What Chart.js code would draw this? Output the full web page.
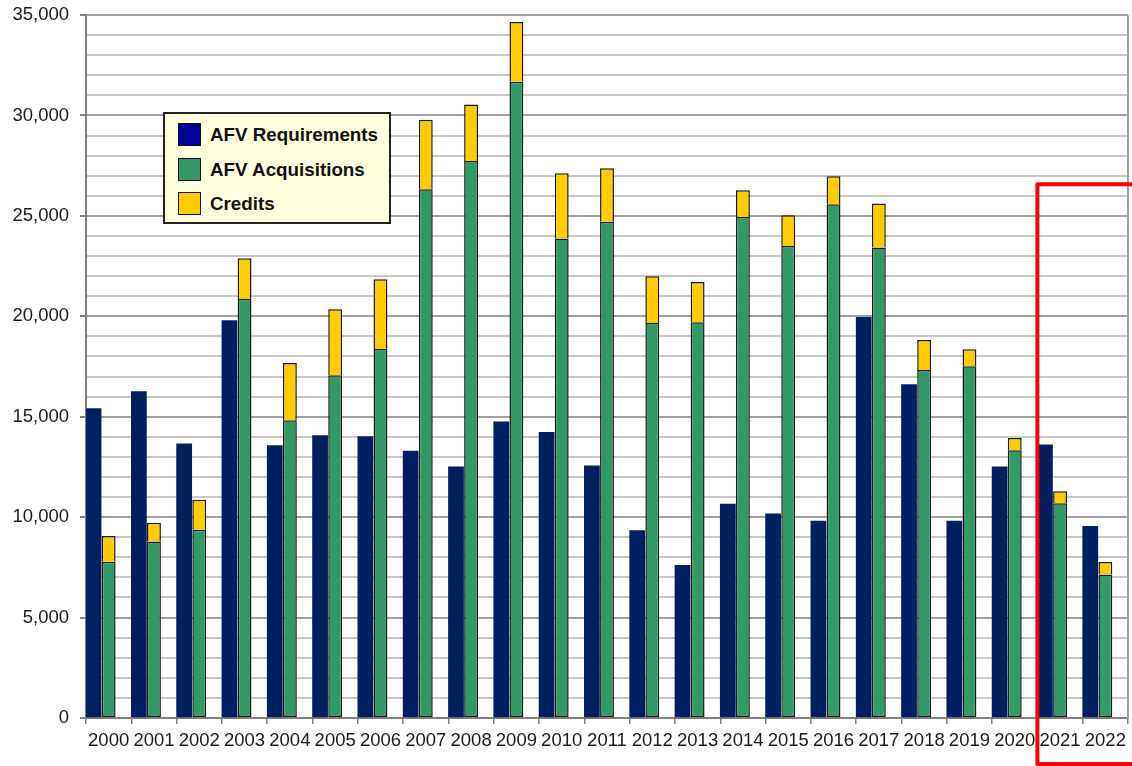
<!DOCTYPE html>
<html>
<head>
<meta charset="utf-8">
<script src="https://cdn.jsdelivr.net/npm/chart.js@4/dist/chart.umd.min.js"></script>
<style>
    html, body { margin: 0; padding: 0; background: #fff; }
    #wrap { position: relative; width: 1132px; height: 766px; }
    #legend {
        position: absolute; left: 163px; top: 112px; width: 224px; height: 108px;
        background: #ffffdd; border: 2px solid #222; box-sizing: content-box;
        font-family: "Liberation Sans", Arial, sans-serif; font-weight: bold; font-size: 18.8px; color: #111;
    }
    .item { position: absolute; left: 13px; height: 24px; line-height: 24px; white-space: nowrap; }
    .swatch { display: inline-block; width: 21px; height: 21px; border: 1.5px solid #111; vertical-align: top; margin-right: 9px; }
</style>
</head>
<body>
<div id="wrap">
    <canvas id="chart" width="1132" height="766"></canvas>
    <div id="legend"></div>
</div>
<script>
const years = ['2000','2001','2002','2003','2004','2005','2006','2007','2008','2009','2010','2011',
    '2012','2013','2014','2015','2016','2017','2018','2019','2020','2021','2022'];

const requirements = [15400, 16250, 13650, 19780, 13560, 14060, 14010, 13290, 12500, 14740, 14220, 12560,
    9330, 7600, 10650, 10170, 9810, 19950, 16600, 9810, 12510, 13600, 9540];

const acquisitions = [7780, 8790, 9370, 20860, 14820, 17060, 18370, 26320, 27730, 31680, 23870, 24710,
    19670, 19700, 24940, 23500, 25580, 23420, 17330, 17510, 13330, 10690, 7140];

const credits = [1280, 930, 1500, 2030, 2850, 3290, 3470, 3470, 2810, 2970, 3250, 2660,
    2320, 2010, 1330, 1530, 1390, 2190, 1490, 850, 610, 600, 630];

const yTicks = [0, 5000, 10000, 15000, 20000, 25000, 30000, 35000];

// red highlight box: starts at this year, top at this value
const highlightFrom = '2021';
const highlightTop = 26570;

const legendItems = [
    { text: 'AFV Requirements', color: '#000099' },
    { text: 'AFV Acquisitions', color: '#339966' },
    { text: 'Credits', color: '#ffcc00' }
];

// build the html legend
const legendDiv = document.getElementById('legend');
legendItems.forEach((it, i) => {
    const row = document.createElement('div');
    row.className = 'item';
    row.style.top = (9 + i * 34.5) + 'px';
    row.innerHTML = '<span class="swatch" style="background:' + it.color + '"></span>' + it.text;
    legendDiv.appendChild(row);
});

const highlightPlugin = {
    id: 'highlight',
    afterDraw(chart) {
        const ctx = chart.ctx;
        const x = chart.scales.x, y = chart.scales.y;
        const area = chart.chartArea;
        const i = years.indexOf(highlightFrom);
        const left = (x.getPixelForValue(i - 1) + x.getPixelForValue(i)) / 2;
        const top = y.getPixelForValue(highlightTop);
        ctx.save();
        // right border of the plot
        ctx.strokeStyle = '#a0a0a0';
        ctx.lineWidth = 2;
        ctx.beginPath();
        ctx.moveTo(area.right, area.top);
        ctx.lineTo(area.right, area.bottom);
        ctx.stroke();
        // red box
        ctx.strokeStyle = '#ff0000';
        ctx.lineWidth = 4;
        ctx.lineJoin = 'round';
        ctx.strokeRect(left, top, chart.width - left + 10, chart.height - 2 - top);
        ctx.restore();
    }
};

const tickFont = { family: '"Liberation Sans", Arial, sans-serif', size: 18.5 };

new Chart(document.getElementById('chart').getContext('2d'), {
    type: 'bar',
    data: {
        labels: years,
        datasets: [
            {
                label: 'AFV Requirements',
                data: requirements,
                stack: 'req',
                backgroundColor: '#00205f',
                borderWidth: 0,
                barPercentage: 1.0
            },
            {
                label: 'AFV Acquisitions',
                data: acquisitions,
                stack: 'acq',
                backgroundColor: '#339966',
                borderColor: '#1a1a1a',
                borderWidth: 1.5,
                borderSkipped: false,
                barPercentage: 0.92
            },
            {
                label: 'Credits',
                data: credits,
                stack: 'acq',
                backgroundColor: '#ffcc00',
                borderColor: '#1a1a1a',
                borderWidth: 1.5,
                borderSkipped: 'bottom',
                barPercentage: 0.92
            },
            {
                // empty third slot so the bars sit at the left of each category
                label: 'spacer',
                data: years.map(() => null),
                stack: 'gap',
                backgroundColor: 'rgba(0,0,0,0)',
                borderWidth: 0
            }
        ]
    },
    options: {
        responsive: false,
        animation: false,
        categoryPercentage: 1.0,
        layout: { padding: { top: 0, right: 3, left: 0, bottom: 0 } },
        plugins: {
            legend: { display: false },
            tooltip: { enabled: false }
        },
        scales: {
            x: {
                stacked: true,
                offset: true,
                grid: {
                    offset: true,
                    drawOnChartArea: false,
                    tickLength: 6,
                    tickColor: '#808080',
                    lineWidth: 1.5
                },
                border: { color: '#808080', width: 2 },
                ticks: { font: tickFont, color: '#1a1a1a', padding: 6, maxRotation: 0, autoSkip: false },
                afterFit: (scale) => { scale.height = 48; }
            },
            y: {
                stacked: true,
                min: 0,
                max: 35000,
                ticks: {
                    stepSize: 1000,
                    autoSkip: false,
                    font: tickFont,
                    color: '#1a1a1a',
                    padding: 11,
                    callback: (v) => yTicks.includes(v) ? v.toLocaleString('en-US') : ''
                },
                grid: {
                    color: (c) => (c.tick && c.tick.value % 5000 === 0) ? '#a0a0a0' : '#c8c8c8',
                    lineWidth: 2,
                    tickLength: 6,
                    tickColor: (c) => (c.tick && c.tick.value % 5000 === 0) ? '#808080' : 'rgba(0,0,0,0)'
                },
                border: { color: '#808080', width: 2 },
                afterFit: (scale) => {
                    scale.width = 86;
                    scale.paddingTop = 15;
                    scale.paddingBottom = 0;
                }
            }
        }
    },
    plugins: [highlightPlugin]
});
</script>
</body>
</html>
